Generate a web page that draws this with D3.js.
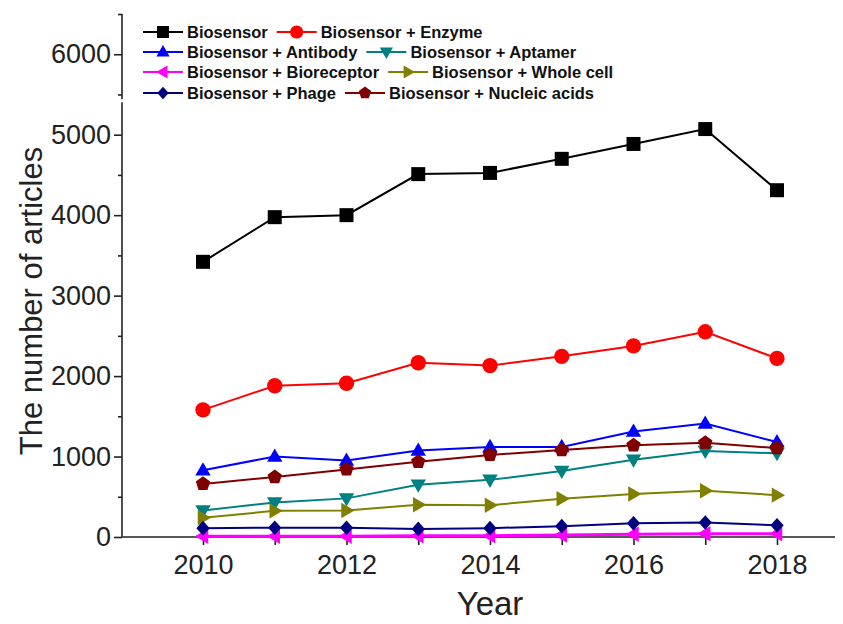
<!DOCTYPE html>
<html>
<head>
<meta charset="utf-8">
<script src="https://cdn.jsdelivr.net/npm/d3@7"></script>
<style>
  html, body { margin: 0; padding: 0; background: #fff; }
  svg { display: block; }
  text { font-family: "Liberation Sans", Arial, sans-serif; }
</style>
</head>
<body>
<svg id="chart" width="843" height="624"></svg>
<script>
// ---- data ----
const years = [2010, 2011, 2012, 2013, 2014, 2015, 2016, 2017, 2018];
const yTickValues = [0, 1000, 2000, 3000, 4000, 5000, 6000];
const yMinorTickValues = [500, 1500, 2500, 3500, 4500, 5500, 6500];
const xTickLabels = ["2010", "", "2012", "", "2014", "", "2016", "", "2018"];

const seriesNames = [
  "Biosensor", "Biosensor + Enzyme",
  "Biosensor + Antibody", "Biosensor + Aptamer",
  "Biosensor + Bioreceptor", "Biosensor + Whole cell",
  "Biosensor + Phage", "Biosensor + Nucleic acids"
];
const biosensor    = [3420, 3975, 4000, 4510, 4525, 4700, 4885, 5070, 4310];
const enzyme       = [1580, 1880, 1910, 2165, 2130, 2245, 2375, 2550, 2220];
const antibody     = [830, 1000, 950, 1075, 1120, 1120, 1310, 1410, 1180];
const aptamer      = [330, 430, 480, 650, 710, 820, 960, 1070, 1040];
const bioreceptor  = [10, 10, 10, 15, 15, 25, 35, 40, 40];
const wholeCell    = [240, 325, 330, 400, 395, 475, 535, 575, 520];
const phage        = [110, 115, 115, 100, 110, 135, 170, 180, 145];
const nucleicAcids = [660, 745, 840, 935, 1020, 1080, 1140, 1170, 1105];

const seriesValues = [biosensor, enzyme, antibody, aptamer, bioreceptor, wholeCell, phage, nucleicAcids];
const seriesColors = ["#000000", "#ff0000", "#0000ff", "#008080", "#ff00ff", "#808000", "#000080", "#800000"];
const seriesSymbols = ["square", "circle", "up", "down", "left", "right", "diamond", "pentagon"];

// ---- layout ----
const svg = d3.select("#chart");
const x = d3.scaleLinear().domain([2010 - 81 / 71.75, 2018 + 58 / 71.75]).range([122, 835]);
const y = d3.scaleLinear().domain([0, 6500]).range([537, 14]);

function symbolPath(type, r) {
  const p = d3.path();
  const poly = pts => { p.moveTo(pts[0][0], pts[0][1]); pts.slice(1).forEach(q => p.lineTo(q[0], q[1])); p.closePath(); };
  switch (type) {
    case "square": poly([[-r, -r], [r, -r], [r, r], [-r, r]]); break;
    case "circle": p.arc(0, 0, r * 1.1, 0, 2 * Math.PI); break;
    case "up": poly([[0, -r * 1.15], [r * 1.1, r * 0.75], [-r * 1.1, r * 0.75]]); break;
    case "down": poly([[0, r * 1.15], [r * 1.1, -r * 0.75], [-r * 1.1, -r * 0.75]]); break;
    case "left": poly([[-r * 1.15, 0], [r * 0.75, -r * 1.1], [r * 0.75, r * 1.1]]); break;
    case "right": poly([[r * 1.15, 0], [-r * 0.75, -r * 1.1], [-r * 0.75, r * 1.1]]); break;
    case "diamond": poly([[0, -r * 1.05], [r * 0.95, 0], [0, r * 1.05], [-r * 0.95, 0]]); break;
    case "pentagon": {
      const pts = d3.range(5).map(i => {
        const a = -Math.PI / 2 + i * 2 * Math.PI / 5;
        return [Math.cos(a) * r * 1.08, Math.sin(a) * r * 1.08];
      });
      poly(pts); break;
    }
  }
  return p.toString();
}

// ---- axes ----
const axisColor = "#222";
const gy = svg.append("g").attr("transform", "translate(122,0)")
  .call(d3.axisLeft(y).tickValues(yTickValues).tickSize(8).tickPadding(3).tickFormat(d3.format("d")));
svg.append("g").attr("transform", "translate(122,0)")
  .call(d3.axisLeft(y).tickValues(yMinorTickValues).tickSize(4).tickFormat(""))
  .call(g => g.select(".domain").remove());
const gx = svg.append("g").attr("transform", "translate(0,537)")
  .call(d3.axisBottom(x).tickValues(years).tickSize(8).tickPadding(10)
    .tickFormat((d, i) => xTickLabels[i]));
gx.select(".domain").attr("d", "M122,0H835");
gy.select(".domain").attr("d", "M0,14V537");

svg.selectAll(".domain, .tick line").attr("stroke", axisColor).attr("stroke-width", 1.6);
svg.selectAll(".tick text").attr("fill", "#222").style("font-size", "27px")
  .style("font-family", "'Liberation Sans', Arial, sans-serif");

// small break in the y axis line
svg.append("rect").attr("x", 119).attr("y", y(5440)).attr("width", 6).attr("height", 3).attr("fill", "#fff");

// axis titles
svg.append("text").attr("x", 490).attr("y", 615).attr("text-anchor", "middle")
  .style("font-size", "33px").attr("fill", "#222").text("Year");
svg.append("text").attr("transform", "translate(42,301) rotate(-90)").attr("text-anchor", "middle")
  .style("font-size", "31px").attr("fill", "#222").text("The number of articles");

// ---- series ----
const line = d3.line().x((d, i) => x(years[i])).y(d => y(d));
seriesValues.forEach((vals, si) => {
  const g = svg.append("g");
  g.append("path").attr("d", line(vals)).attr("fill", "none")
    .attr("stroke", seriesColors[si]).attr("stroke-width", si === 4 ? 3 : 2);
  g.selectAll("path.m").data(vals).enter().append("path").attr("class", "m")
    .attr("transform", (d, i) => `translate(${x(years[i])},${y(d)})`)
    .attr("d", symbolPath(seriesSymbols[si], 7))
    .attr("fill", seriesColors[si]);
});

// ---- legend ----
const legendRowsY = [32, 52, 72, 93];
const lg = svg.append("g");
for (let row = 0; row < 4; row++) {
  let cx = 143;
  for (let col = 0; col < 2; col++) {
    const si = row * 2 + col;
    const yy = legendRowsY[row];
    lg.append("line").attr("x1", cx).attr("x2", cx + 40).attr("y1", yy).attr("y2", yy)
      .attr("stroke", seriesColors[si]).attr("stroke-width", 2);
    lg.append("path").attr("transform", `translate(${cx + 20},${yy})`)
      .attr("d", symbolPath(seriesSymbols[si], 6)).attr("fill", seriesColors[si]);
    const t = lg.append("text").attr("x", cx + 44).attr("y", yy + 6)
      .style("font-size", "16.5px").style("font-weight", "bold").attr("fill", "#111")
      .text(seriesNames[si]);
    cx = cx + 44 + t.node().getComputedTextLength() + 9;
  }
}
</script>
</body>
</html>
